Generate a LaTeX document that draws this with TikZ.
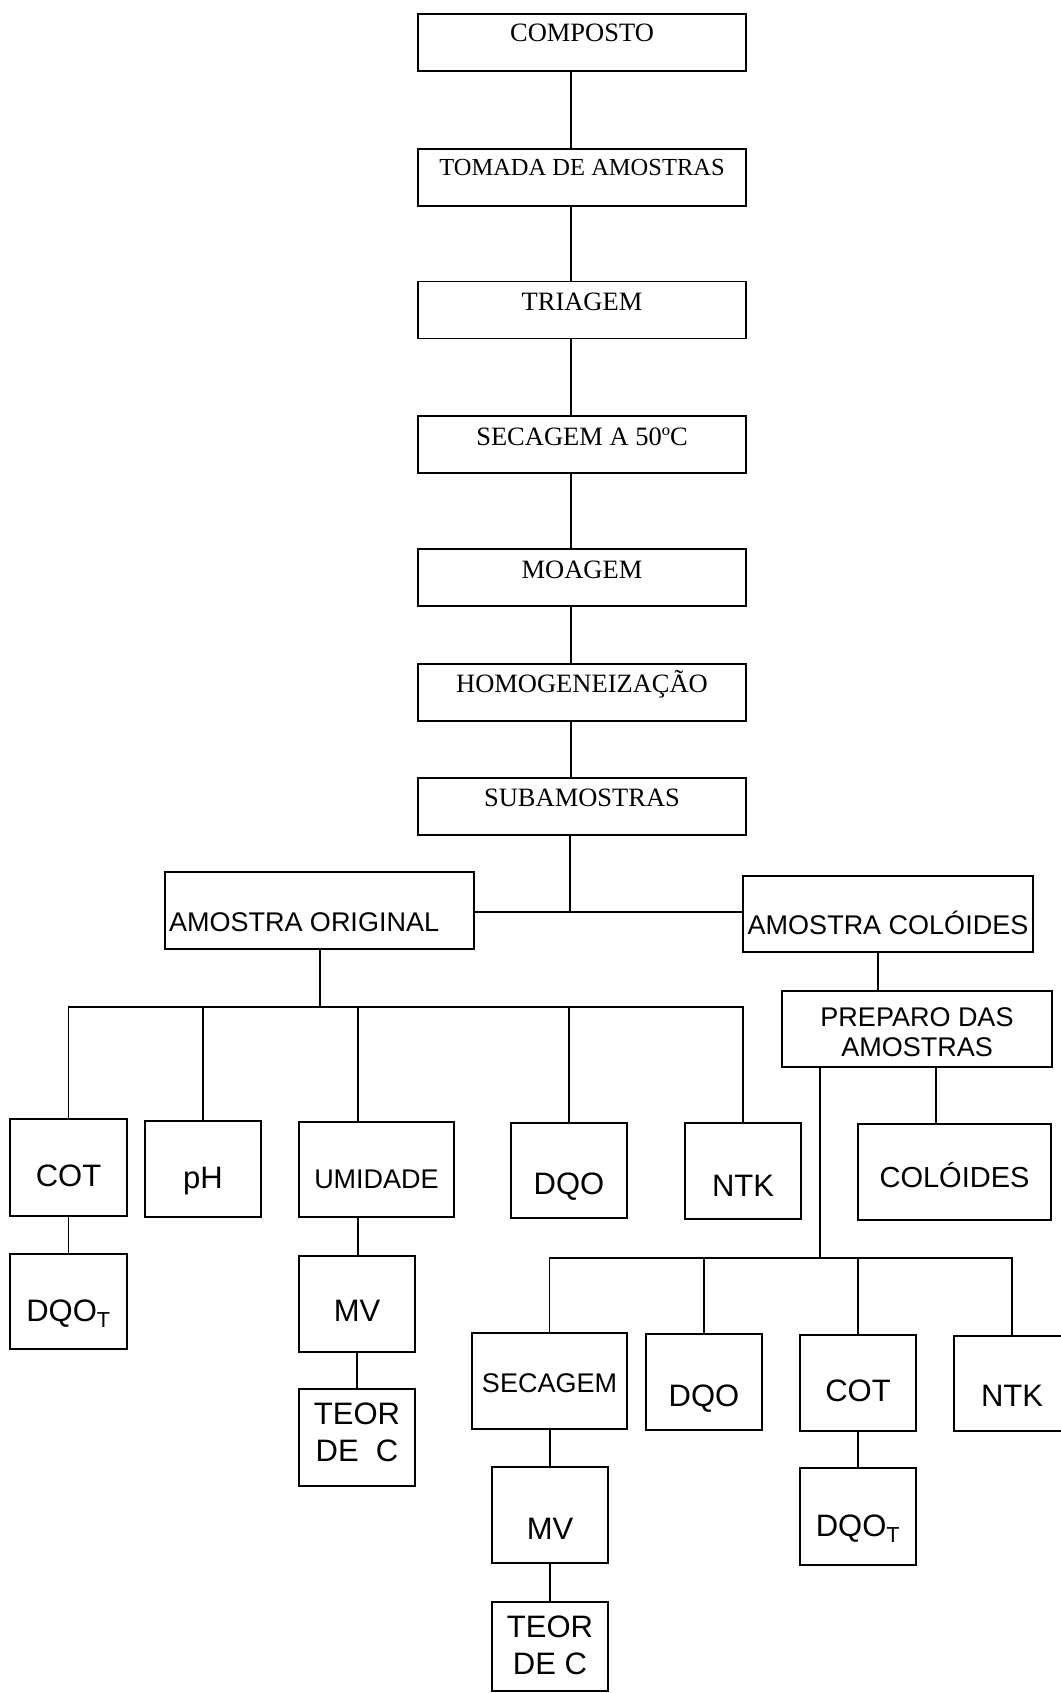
\documentclass[tikz,border=0pt]{standalone}
\usepackage{fontspec}
\setmainfont{Liberation Serif}
\newfontfamily\arialfam{Liberation Sans}
\newcommand\txtat[2]{\raisebox{#1pt}[0pt][0pt]{#2}}
\tikzset{
  conn/.style={line width=1.3pt},
  topbox/.style={draw, line width=1.3pt, inner sep=0pt, minimum width=328pt, minimum height=57pt,
    font=\fontsize{26.5}{30}\selectfont},
  bigbox/.style={draw, line width=1.3pt, inner sep=0pt, font=\fontsize{31}{37}\selectfont\arialfam},
  smallbox/.style={draw, line width=1.3pt, inner sep=0pt, font=\fontsize{27}{30}\selectfont\arialfam},
}
\begin{document}
\begin{tikzpicture}[x=1pt,y=-1pt]
\fill[white] (0,0) rectangle (1060,1693);
\useasboundingbox (0,0) rectangle (1060,1693);

% main column
\node[topbox] (comp) at (582,42.5) {\txtat{0.5}{COMPOSTO}};
\node[topbox] (toma) at (582,177.5) {\txtat{1.5}{\fontsize{24.5}{28}\selectfont TOMADA DE AMOSTRAS}};
\node[topbox] (tria) at (582,310) {\txtat{-0.5}{TRIAGEM}};
\node[topbox] (seca) at (582,444.5) {\txtat{-1}{SECAGEM A 50ºC}};
\node[topbox] (moag) at (582,577.5) {\txtat{-1}{MOAGEM}};
\node[topbox] (homo) at (582,692.5) {\txtat{0.5}{HOMOGENEIZAÇÃO}};
\node[topbox] (suba) at (582,806.5) {\txtat{0}{SUBAMOSTRAS}};

% two samples
\node[smallbox, minimum width=309pt, minimum height=77pt] (ao) at (319.5,910.5)
  {\txtat{-20.7}{\makebox[309pt][l]{\hspace{4pt}AMOSTRA ORIGINAL}}};
\node[smallbox, minimum width=290pt, minimum height=76pt] (ac) at (888,914)
  {\txtat{-20.7}{AMOSTRA COLÓIDES}};
\node[smallbox, minimum width=270pt, minimum height=76pt] (prep) at (917,1029)
  {\txtat{-27.7}{\begin{tabular}[b]{@{}c@{}}PREPARO DAS\\AMOSTRAS\end{tabular}}};

% first row
\node[bigbox, minimum width=117pt, minimum height=97pt] (cot1) at (68.5,1167.5) {\txtat{-18.6}{COT}};
\node[bigbox, minimum width=116pt, minimum height=96pt] (ph) at (203,1169) {\txtat{-19.1}{pH}};
\node[smallbox, minimum width=155pt, minimum height=95pt] (umi) at (376.5,1169.5) {\txtat{-19.2}{UMIDADE}};
\node[bigbox, minimum width=116pt, minimum height=95pt] (dqo1) at (569,1170.5) {\txtat{-23.6}{DQO}};
\node[bigbox, minimum width=116pt, minimum height=96pt] (ntk1) at (743,1171) {\txtat{-25.1}{NTK}};
\node[bigbox, minimum width=193pt, minimum height=96pt, font=\fontsize{29}{33}\selectfont\arialfam] (col) at (954.5,1172) {\txtat{-15.4}{COLÓIDES}};

% left sub-boxes
\node[bigbox, minimum width=117pt, minimum height=95pt] (dqot1) at (68.5,1301.5) {\txtat{-19.6}{DQO\textsubscript{T}}};
\node[bigbox, minimum width=116pt, minimum height=96pt] (mv1) at (357,1304) {\txtat{-17.1}{MV}};
\node[bigbox, minimum width=116pt, minimum height=97pt] (teor1) at (357,1437.5)
  {\txtat{-23.6}{\begin{tabular}[b]{@{}c@{}}TEOR\\DE\ \ C\end{tabular}}};

% second row (colloids)
\node[smallbox, minimum width=155pt, minimum height=96pt] (sec2) at (549.5,1381) {\txtat{-11.7}{SECAGEM}};
\node[bigbox, minimum width=116pt, minimum height=96pt] (dqo2) at (704,1382) {\txtat{-24.1}{DQO}};
\node[bigbox, minimum width=116pt, minimum height=96pt] (cot2) at (858,1383) {\txtat{-18.1}{COT}};
\node[bigbox, minimum width=116pt, minimum height=95pt] (ntk2) at (1012,1383.5) {\txtat{-22.6}{NTK}};
\node[bigbox, minimum width=116pt, minimum height=96pt] (mv2) at (550,1515) {\txtat{-24.1}{MV}};
\node[bigbox, minimum width=116pt, minimum height=89pt] (teor2) at (550,1646.5)
  {\txtat{-27.6}{\begin{tabular}[b]{@{}c@{}}TEOR\\DE C\end{tabular}}};
\node[bigbox, minimum width=116pt, minimum height=97pt] (dqot2) at (858,1516.5) {\txtat{-19.6}{DQO\textsubscript{T}}};

% helper coordinates
\coordinate (spine) at (571,0);
\coordinate (j) at (570,912);
\coordinate (b1) at (320,1007);
\coordinate (umid) at (358,0);
\coordinate (acx) at (878,0);
\coordinate (b2) at (820,1258);
\coordinate (colx) at (936,0);

% connectors main column
\draw[conn] (comp.south -| spine) -- (toma.north -| spine);
\draw[conn] (toma.south -| spine) -- (tria.north -| spine);
\draw[conn] (tria.south -| spine) -- (seca.north -| spine);
\draw[conn] (seca.south -| spine) -- (moag.north -| spine);
\draw[conn] (moag.south -| spine) -- (homo.north -| spine);
\draw[conn] (homo.south -| spine) -- (suba.north -| spine);
\draw[conn] (suba.south -| j) -- (j);
\draw[conn] (ao.east |- j) -- (ac.west |- j);

% original sample branch
\draw[conn] (ao.south -| b1) -- (b1);
\draw[conn] (cot1.north) -- (cot1.north |- b1) -- (ntk1.north |- b1) -- (ntk1.north);
\draw[conn] (ph.north) -- (ph.north |- b1);
\draw[conn] (umi.north -| umid) -- (umid |- b1);
\draw[conn] (dqo1.north) -- (dqo1.north |- b1);
\draw[conn] (cot1.south) -- (dqot1.north);
\draw[conn] (umi.south -| umid) -- (mv1.north -| umid);
\draw[conn] (mv1.south) -- (teor1.north);

% colloid branch
\draw[conn] (ac.south -| acx) -- (prep.north -| acx);
\draw[conn] (prep.south -| colx) -- (col.north -| colx);
\draw[conn] (prep.south -| b2) -- (b2);
\draw[conn] (sec2.north) -- (sec2.north |- b2) -- (ntk2.north |- b2) -- (ntk2.north);
\draw[conn] (dqo2.north) -- (dqo2.north |- b2);
\draw[conn] (cot2.north) -- (cot2.north |- b2);
\draw[conn] (sec2.south -| mv2.north) -- (mv2.north);
\draw[conn] (mv2.south) -- (teor2.north);
\draw[conn] (cot2.south) -- (dqot2.north);
\end{tikzpicture}
\end{document}
